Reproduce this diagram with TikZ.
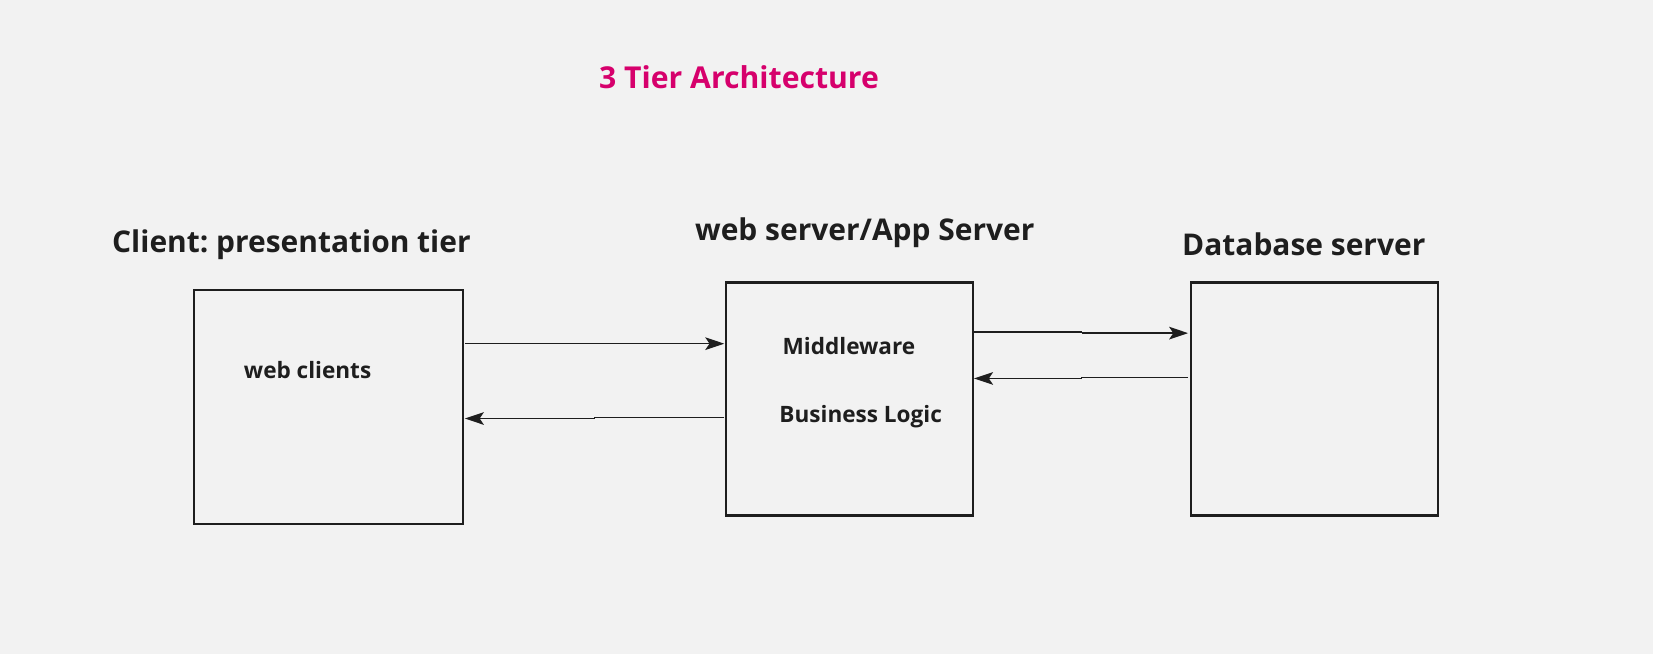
\documentclass[tikz,border=0pt]{standalone}
\usepackage{fontspec}
\setmainfont{Open Sans}
\usetikzlibrary{arrows.meta}
\definecolor{bg}{RGB}{242,242,242}
\definecolor{ink}{RGB}{30,30,30}
\definecolor{mag}{RGB}{214,0,108}
\frenchspacing
\tikzset{
  tierbox/.style={draw=ink,line width=1pt,inner sep=0pt,anchor=north west},
  heading/.style={font=\bfseries\fontsize{14.2}{17}\selectfont,text=ink,inner sep=0pt,anchor=west},
  inner/.style={font=\bfseries\fontsize{10.7}{13}\selectfont,text=ink,inner sep=0pt,anchor=west},
  arr/.style={draw=ink,line width=0.65pt,-{Stealth[length=9pt,width=6pt,inset=2pt]}},
  ln/.style={draw=ink,line width=0.65pt}
}
\begin{document}
\begin{tikzpicture}[x=0.5pt,y=-0.5pt]
\fill[bg] (0,0) rectangle (1568,620);
\useasboundingbox (0,0) rectangle (1568,620);
\node[font=\bfseries\fontsize{14.3}{17}\selectfont,text=mag,inner sep=0pt,anchor=west] (title) at (568,73) {3 Tier Architecture};
\node[heading] (h1) at (106,232) {Client: presentation tier};
\node[heading] (h2) at (659,221) {web server/App Server};
\node[heading] (h3) at (1121,232) {Database server};
\node[tierbox,minimum width=127.5pt,minimum height=111pt] (b1) at (183,274) {};
\node[tierbox,minimum width=117pt,minimum height=110.5pt] (b2) at (688,267) {};
\node[tierbox,minimum width=117pt,minimum height=110.5pt] (b3) at (1129,267) {};
\node[inner] (t1) at (231,351) {web clients};
\node[inner] (t2) at (742,328) {Middleware};
\node[inner] (t3) at (739,395) {Business Logic};
% arrows
\coordinate (a1s) at (441,326);
\coordinate (a1e) at (687,326);
\draw[arr] (a1s) -- (a1e);
\coordinate (a2s) at (687,396);
\coordinate (a2m) at (564,396);
\coordinate (a2n) at (564,397);
\coordinate (a2e) at (441,397);
\draw[ln] (a2s) -- (a2m) -- (a2n);
\draw[arr] (a2n) -- (a2e);
\coordinate (a3s) at (924,315);
\coordinate (a3m) at (1026,315);
\coordinate (a3n) at (1026,316);
\coordinate (a3e) at (1127,316);
\draw[ln] (a3s) -- (a3m) -- (a3n);
\draw[arr] (a3n) -- (a3e);
\coordinate (a4s) at (1127,358);
\coordinate (a4m) at (1026,358);
\coordinate (a4n) at (1026,359);
\coordinate (a4e) at (924,359);
\draw[ln] (a4s) -- (a4m) -- (a4n);
\draw[arr] (a4n) -- (a4e);
\end{tikzpicture}
\end{document}
